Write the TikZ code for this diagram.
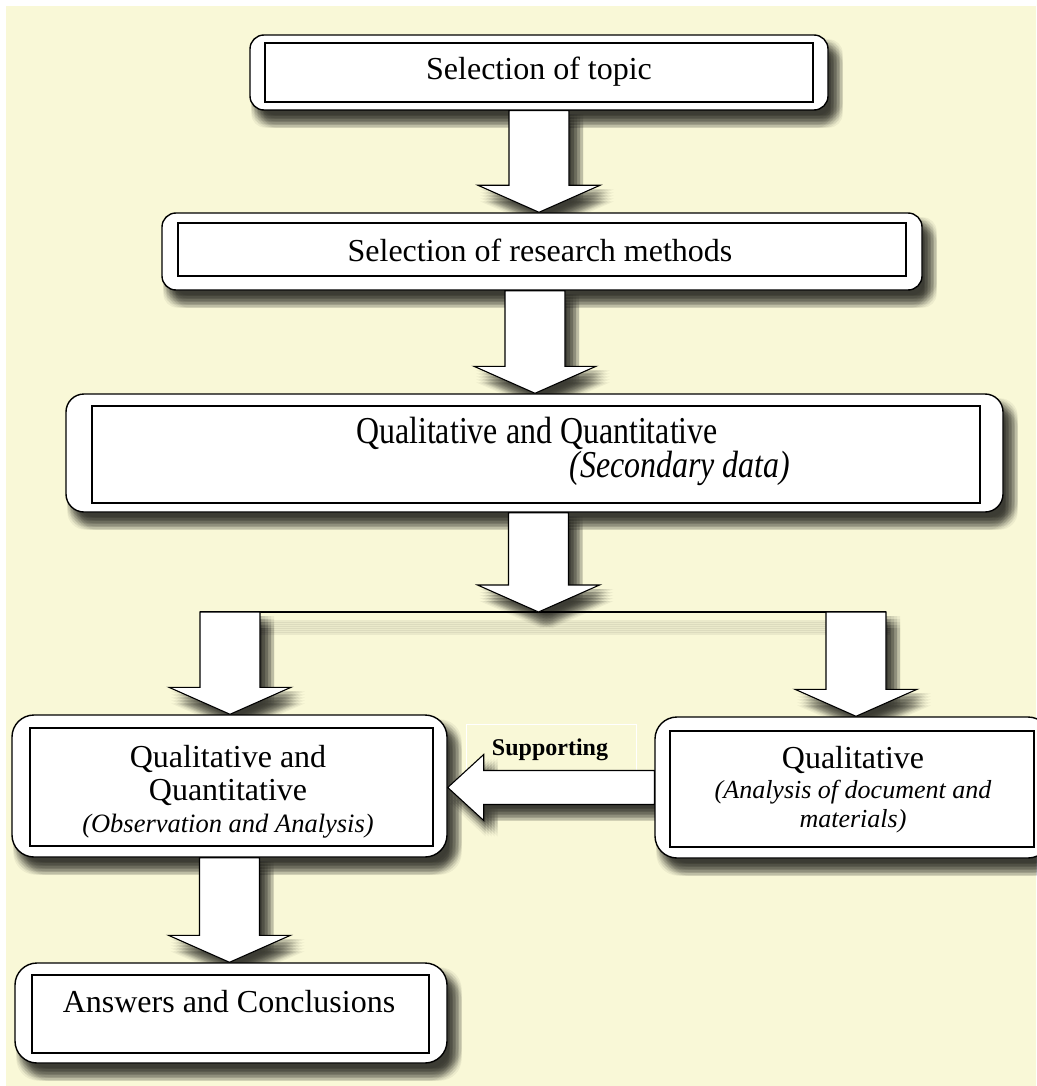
\documentclass[tikz,border=0pt]{standalone}
\usepackage{fontspec}
\setmainfont{Liberation Serif}
\newfontfamily\narrowserif[FakeStretch=0.84]{Liberation Serif}
\usetikzlibrary{calc}

\definecolor{paperyellow}{RGB}{249,248,215}

\pgfdeclarelayer{backdrop}
\pgfdeclarelayer{shade}
\pgfsetlayers{backdrop,shade,main}

\tikzset{
  outerbox/.style={draw=black, line width=1.4pt, fill=white, rounded corners=14pt, inner sep=0pt},
  innerbox/.style={draw=black, line width=1.2pt, fill=white, inner sep=0pt},
  softshade/.style={fill=black, fill opacity=0.05},
  blockarrow/.style={draw=black, line width=1.1pt, fill=white, line join=miter},
  boxtext/.style={anchor=base, inner sep=0pt, font=\fontsize{32}{38}\selectfont},
  notetext/.style={anchor=base, inner sep=0pt, font=\fontsize{26}{30}\selectfont\itshape},
  widetext/.style={anchor=base, inner sep=0pt, font=\narrowserif\fontsize{38}{44}\selectfont},
  widenote/.style={anchor=base, inner sep=0pt, font=\narrowserif\fontsize{38}{44}\selectfont\itshape},
}

% block arrows between two named points
\newcommand{\downshape}{(\x1-30pt,\y1) -- (\x1-30pt,\y2+27pt) -- (\x1-61pt,\y2+27pt) -- (\x1,\y2) -- (\x1+61pt,\y2+27pt) -- (\x1+30pt,\y2+27pt) -- (\x1+30pt,\y1) -- cycle}
\newcommand{\leftshape}{(\x1,\y1+17pt) -- (\x2+36pt,\y1+17pt) -- (\x2+36pt,\y1+33pt) -- (\x2,\y1) -- (\x2+36pt,\y1-33pt) -- (\x2+36pt,\y1-17pt) -- (\x1,\y1-17pt) -- cycle}
\newcommand{\downblock}[2]{%
  \begin{pgfonlayer}{shade}
    \foreach \dx in {2,5,...,14} \foreach \dy in {4,7,...,16}
      \fill[softshade, transform canvas={shift={(\dx pt,-\dy pt)}}] let \p1=(#1), \p2=(#2) in \downshape;
  \end{pgfonlayer}
  \path[blockarrow] let \p1=(#1), \p2=(#2) in \downshape;}
\newcommand{\leftblock}[2]{%
  \begin{pgfonlayer}{shade}
    \foreach \dx in {2,5,...,14} \foreach \dy in {4,7,...,16}
      \fill[softshade, transform canvas={shift={(\dx pt,-\dy pt)}}] let \p1=(#1), \p2=(#2) in \leftshape;
  \end{pgfonlayer}
  \path[blockarrow] let \p1=(#1), \p2=(#2) in \leftshape;}

\begin{document}
\begin{tikzpicture}[x=1pt, y=-1pt]
\useasboundingbox (0,0) rectangle (1036,1086);
\begin{pgfonlayer}{backdrop}
  \fill[white] (0,0) rectangle (1036,1086);
  \fill[paperyellow] (6,6) rectangle (1036,1086);
\end{pgfonlayer}

% top boxes
\node[outerbox, minimum width=578pt, minimum height=75pt] (topicframe) at (539,72.5) {};
\node[innerbox, minimum width=548pt, minimum height=59pt] (topicbox) at (539,72.5) {};
\node[boxtext] (topictext) at (539,80) {Selection of topic};

\node[outerbox, minimum width=760pt, minimum height=77pt] (methodsframe) at (542,251.5) {};
\node[innerbox, minimum width=728pt, minimum height=53pt] (methodsbox) at (542,249.5) {};
\node[boxtext] (methodstext) at (540,261) {Selection of research methods};

\node[outerbox, rounded corners=18pt, minimum width=937pt, minimum height=118pt] (dataframe) at (534.5,453) {};
\node[innerbox, minimum width=888pt, minimum height=97pt] (databox) at (536,454.5) {};
\node[widetext] (datatext) at (537,443) {Qualitative and Quantitative};
\node[widenote] (datanote) at (680,477) {(Secondary data)};

% lower boxes
\node[outerbox, rounded corners=22pt, minimum width=435pt, minimum height=142pt] (mixedframe) at (229.5,786) {};
\node[innerbox, minimum width=403pt, minimum height=118pt] (mixedbox) at (231.5,787) {};
\node[boxtext] (mixedtexta) at (228,767) {Qualitative and};
\node[boxtext] (mixedtextb) at (228,800) {Quantitative};
\node[notetext, font=\fontsize{26.5}{30}\selectfont\itshape] (mixednote) at (228,832) {(Observation and Analysis)};

\node[outerbox, rounded corners=22pt, minimum width=395pt, minimum height=141pt] (qualframe) at (852.5,787.5) {};
\node[innerbox, minimum width=364pt, minimum height=116pt] (qualbox) at (852,789) {};
\node[boxtext] (qualtext) at (853,768) {Qualitative};
\node[notetext] (qualnotea) at (853,798) {(Analysis of document and};
\node[notetext] (qualnoteb) at (853,827) {materials)};

\node[outerbox, rounded corners=22pt, minimum width=432pt, minimum height=100pt] (answersframe) at (231,1013) {};
\node[innerbox, minimum width=397pt, minimum height=78pt] (answersbox) at (230.5,1014) {};
\node[boxtext] (answerstext) at (229,1012) {Answers and Conclusions};

\node[draw=white, line width=1pt, minimum width=170pt, minimum height=46pt] (supportbox) at (551,747) {};
\node[boxtext, font=\fontsize{24}{28}\selectfont\bfseries] (supporttext) at (550,755) {Supporting};

% box shadows
\begin{pgfonlayer}{shade}
\foreach \f/\r in {topicframe/14, methodsframe/14, dataframe/18, mixedframe/22, qualframe/22, answersframe/22}
  \foreach \dx in {2,5,...,14} \foreach \dy in {5,8,...,17}
    \fill[softshade, rounded corners=\r pt, transform canvas={shift={(\dx pt,-\dy pt)}}] (\f.north west) rectangle (\f.south east);
\end{pgfonlayer}

% split
\coordinate (split) at (538,612);
\coordinate (splitleft) at (230,612);
\coordinate (splitright) at (856,612);
\begin{pgfonlayer}{shade}
  \foreach \dy in {8,10,...,20}
    \fill[softshade, fill opacity=0.06, transform canvas={shift={(4pt,-\dy pt)}}] ([xshift=-30pt]splitleft) rectangle ([xshift=30pt,yshift=-3pt]splitright);
\end{pgfonlayer}
\draw[line width=1.4pt] ([xshift=-30pt]splitleft) -- ([xshift=30pt]splitright);

% arrows
\downblock{topicframe.south}{methodsframe.north}
\downblock{[xshift=-7pt]methodsframe.south}{dataframe.north}
\downblock{[xshift=4pt]dataframe.south}{split}
\downblock{splitleft}{mixedframe.north}
\downblock{splitright}{qualframe.north}
\downblock{mixedframe.south}{answersframe.north}
\leftblock{qualframe.west}{mixedframe.east}
\end{tikzpicture}
\end{document}
